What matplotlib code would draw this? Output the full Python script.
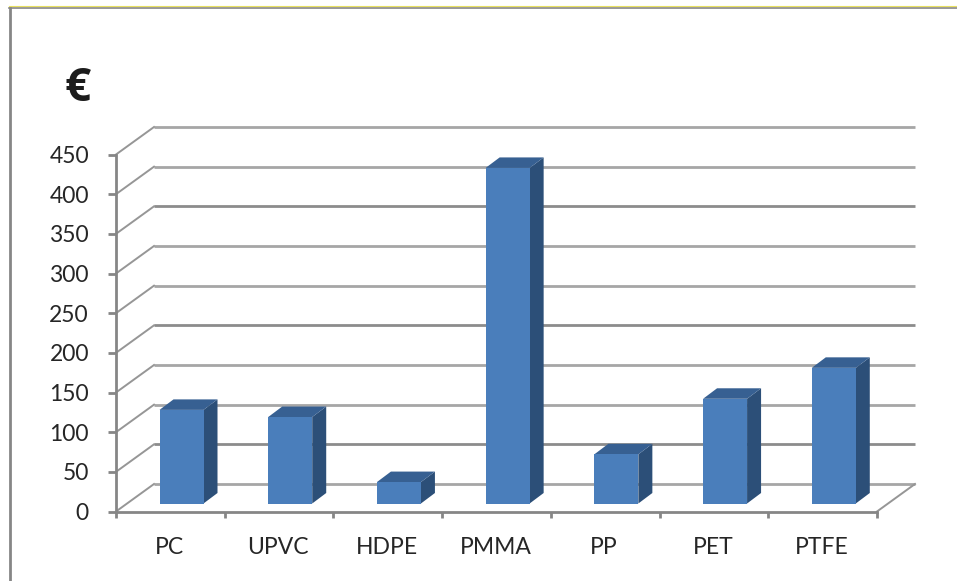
import matplotlib
matplotlib.use("Agg")
import matplotlib.pyplot as plt
from matplotlib.patches import Polygon
from matplotlib.lines import Line2D

categories = ["PC", "UPVC", "HDPE", "PMMA", "PP", "PET", "PTFE"]
values = [118, 109, 27, 423, 62, 132, 171]
y_ticks = [0, 50, 100, 150, 200, 250, 300, 350, 400, 450]
grid_tones = ["#a6a6a6", "#8c8c8c", "#a6a6a6", "#a6a6a6", "#8c8c8c",
              "#a6a6a6", "#a6a6a6", "#8c8c8c", "#a6a6a6", "#a6a6a6"]

W, H = 957, 581
plt.rcParams["font.family"] = ["Lato", "DejaVu Sans"]
fig = plt.figure(figsize=(W / 100, H / 100), dpi=100, facecolor="white")

# The axes span the front plane of the 3D box; everything else is offset from it.
left, right, bottom, top = 116, 877, 511.5, 154.5
ax = fig.add_axes([left / W, 1 - bottom / H, (right - left) / W, (bottom - top) / H])
ax.set_xlim(0, len(categories))
ax.set_ylim(0, 450)
ax.axis("off")

px_x = len(categories) / (right - left)
px_y = 450 / (bottom - top)
depth_x, depth_y = 38 * px_x, 27.5 * px_y

AXIS = "#868686"
FRONT, TOP, SIDE = "#4a7ebb", "#376092", "#2c4f78"

# Walls: side-wall diagonals and back-wall gridlines
for tick, tone in zip(y_ticks, grid_tones):
    ax.plot([depth_x, len(categories) + depth_x], [tick + depth_y] * 2,
            color=tone, lw=2.0, clip_on=False, zorder=1, solid_capstyle="butt")
    ax.plot([0, depth_x], [tick, tick + depth_y],
            color="#969696", lw=1.4, clip_on=False, zorder=1)
ax.plot([len(categories), len(categories) + depth_x], [0, depth_y],
        color="#969696", lw=1.4, clip_on=False, zorder=1)

# Bars: each one has a front face, a top and a right side
bar_offset = 43.5 * px_x
bar_width = 44 * px_x
bar_base = 8 * px_y
bar_dx, bar_dy = 14 * px_x, 10.5 * px_y
for i, v in enumerate(values):
    x0 = i + bar_offset
    x1 = x0 + bar_width
    y0 = bar_base
    y1 = bar_base + v
    ax.add_patch(Polygon([(x1, y0), (x1 + bar_dx, y0 + bar_dy), (x1 + bar_dx, y1 + bar_dy), (x1, y1)],
                         closed=True, fc=SIDE, ec="none", zorder=3, clip_on=False))
    ax.add_patch(Polygon([(x0, y1), (x1, y1), (x1 + bar_dx, y1 + bar_dy), (x0 + bar_dx, y1 + bar_dy)],
                         closed=True, fc=TOP, ec="none", zorder=3, clip_on=False))
    ax.add_patch(Polygon([(x0, y0), (x1, y0), (x1, y1), (x0, y1)],
                         closed=True, fc=FRONT, ec="none", zorder=4, clip_on=False))

# Front axes with outward ticks
tick_x = 8 * px_x
tick_y = 6.5 * px_y
ax.plot([0, 0], [0, 450], color=AXIS, lw=2.0, clip_on=False, zorder=5)
ax.plot([0, len(categories)], [0, 0], color=AXIS, lw=2.0, clip_on=False, zorder=5)
for tick in y_ticks:
    ax.plot([-tick_x, 0], [tick, tick], color=AXIS, lw=2.0, clip_on=False, zorder=5,
            solid_capstyle="butt")
    ax.text(-27 * px_x, tick, str(tick), ha="right", va="center_baseline",
            fontsize=16.5, color="#262626", clip_on=False)
for i in range(len(categories) + 1):
    ax.plot([i, i], [0, -tick_y], color=AXIS, lw=2.0, clip_on=False, zorder=5,
            solid_capstyle="butt")
for i, name in enumerate(categories):
    ax.text(i + 0.5 - 1 * px_x, -34 * px_y, name, ha="center", va="center_baseline",
            fontsize=16.5, color="#262626", clip_on=False)

# Unit label above the value axis
fig.text(78 / W, 1 - 88.5 / H, "€", ha="center", va="center", family="Open Sans",
         fontsize=33, fontweight="bold", color="#1c1c1c")

# Frame of the surrounding chart area
fig.add_artist(Line2D([9.5 / W, 9.5 / W], [0, 1 - 7 / H], color=AXIS, lw=2))
fig.add_artist(Line2D([9 / W, 1], [1 - 7.5 / H] * 2, color=AXIS, lw=1.2))
fig.add_artist(Line2D([9 / W, 1], [1 - 5.8 / H] * 2, color="#e8e060", lw=0.8))

fig.savefig("out.png", dpi=100)
